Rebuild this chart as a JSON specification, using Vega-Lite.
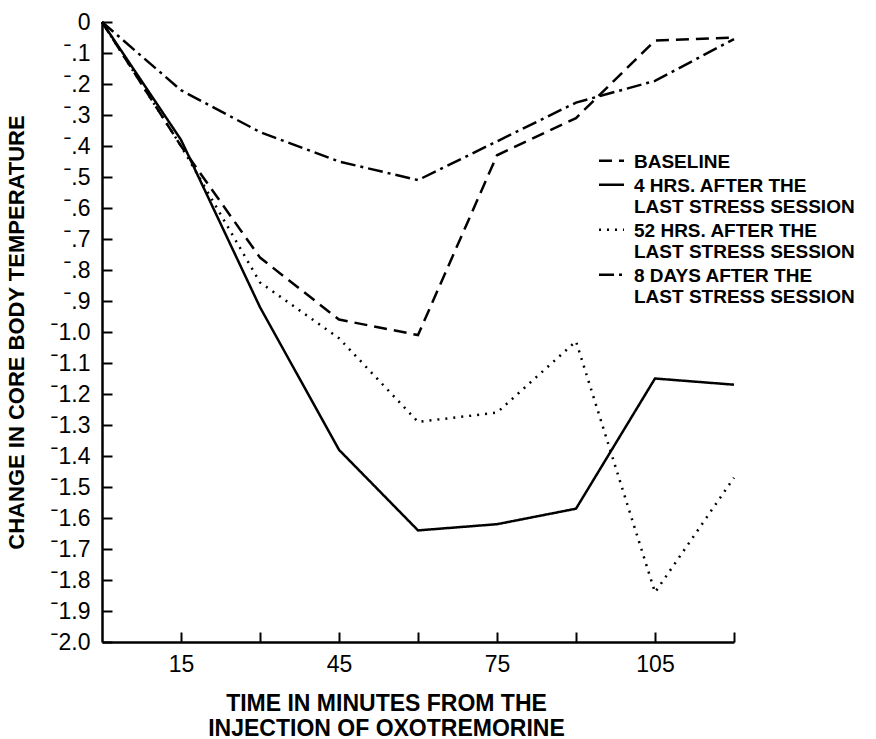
{
  "$schema": "https://vega.github.io/schema/vega-lite/v6.json",
  "width": 632,
  "height": 620,
  "autosize": {"type": "none"},
  "padding": {"left": 102, "top": 22, "right": 142, "bottom": 97},
  "background": "white",
  "config": {"view": {"stroke": null}},
  "data": {
    "values": [
      {"series": "BASELINE", "t": 0, "v": 0},
      {"series": "BASELINE", "t": 15, "v": -0.40},
      {"series": "BASELINE", "t": 30, "v": -0.76},
      {"series": "BASELINE", "t": 45, "v": -0.96},
      {"series": "BASELINE", "t": 60, "v": -1.01},
      {"series": "BASELINE", "t": 75, "v": -0.43},
      {"series": "BASELINE", "t": 90, "v": -0.31},
      {"series": "BASELINE", "t": 105, "v": -0.06},
      {"series": "BASELINE", "t": 120, "v": -0.05},
      {"series": "4 HRS. AFTER THE|LAST STRESS SESSION", "t": 0, "v": 0},
      {"series": "4 HRS. AFTER THE|LAST STRESS SESSION", "t": 15, "v": -0.38},
      {"series": "4 HRS. AFTER THE|LAST STRESS SESSION", "t": 30, "v": -0.92},
      {"series": "4 HRS. AFTER THE|LAST STRESS SESSION", "t": 45, "v": -1.38},
      {"series": "4 HRS. AFTER THE|LAST STRESS SESSION", "t": 60, "v": -1.64},
      {"series": "4 HRS. AFTER THE|LAST STRESS SESSION", "t": 75, "v": -1.62},
      {"series": "4 HRS. AFTER THE|LAST STRESS SESSION", "t": 90, "v": -1.57},
      {"series": "4 HRS. AFTER THE|LAST STRESS SESSION", "t": 105, "v": -1.15},
      {"series": "4 HRS. AFTER THE|LAST STRESS SESSION", "t": 120, "v": -1.17},
      {"series": "52 HRS. AFTER THE|LAST STRESS SESSION", "t": 0, "v": 0},
      {"series": "52 HRS. AFTER THE|LAST STRESS SESSION", "t": 15, "v": -0.40},
      {"series": "52 HRS. AFTER THE|LAST STRESS SESSION", "t": 30, "v": -0.84},
      {"series": "52 HRS. AFTER THE|LAST STRESS SESSION", "t": 45, "v": -1.02},
      {"series": "52 HRS. AFTER THE|LAST STRESS SESSION", "t": 60, "v": -1.29},
      {"series": "52 HRS. AFTER THE|LAST STRESS SESSION", "t": 75, "v": -1.26},
      {"series": "52 HRS. AFTER THE|LAST STRESS SESSION", "t": 90, "v": -1.03},
      {"series": "52 HRS. AFTER THE|LAST STRESS SESSION", "t": 105, "v": -1.84},
      {"series": "52 HRS. AFTER THE|LAST STRESS SESSION", "t": 120, "v": -1.47},
      {"series": "8 DAYS AFTER THE|LAST STRESS SESSION", "t": 0, "v": 0},
      {"series": "8 DAYS AFTER THE|LAST STRESS SESSION", "t": 15, "v": -0.22},
      {"series": "8 DAYS AFTER THE|LAST STRESS SESSION", "t": 30, "v": -0.355},
      {"series": "8 DAYS AFTER THE|LAST STRESS SESSION", "t": 45, "v": -0.45},
      {"series": "8 DAYS AFTER THE|LAST STRESS SESSION", "t": 60, "v": -0.51},
      {"series": "8 DAYS AFTER THE|LAST STRESS SESSION", "t": 75, "v": -0.385},
      {"series": "8 DAYS AFTER THE|LAST STRESS SESSION", "t": 90, "v": -0.26},
      {"series": "8 DAYS AFTER THE|LAST STRESS SESSION", "t": 105, "v": -0.19},
      {"series": "8 DAYS AFTER THE|LAST STRESS SESSION", "t": 120, "v": -0.055}
    ]
  },
  "mark": {"type": "line", "strokeWidth": 2.5, "color": "black", "strokeJoin": "miter"},
  "encoding": {
    "x": {
      "field": "t",
      "type": "quantitative",
      "scale": {"domain": [0, 120], "nice": false, "zero": false},
      "axis": {
        "values": [15, 30, 45, 60, 75, 90, 105, 120],
        "labelExpr": "datum.value % 30 == 15 ? datum.label : ''",
        "grid": false,
        "tickSize": -10,
        "tickWidth": 2,
        "tickColor": "black",
        "domainColor": "black",
        "domainWidth": 2.5,
        "labelFont": "Liberation Sans",
        "labelFontSize": 23,
        "labelColor": "black",
        "labelPadding": 21,
        "labelFlush": false,
        "title": ["TIME IN MINUTES FROM THE", "INJECTION OF OXOTREMORINE"],
        "titleFont": "Liberation Sans",
        "titleFontSize": 23,
        "titleFontWeight": "bold",
        "titleLineHeight": 25,
        "titlePadding": 16,
        "titleX": 284,
        "titleAlign": "center",
        "titleColor": "black"
      }
    },
    "y": {
      "field": "v",
      "type": "quantitative",
      "scale": {"domain": [-2, 0], "nice": false, "zero": false},
      "axis": {
        "values": [0, -0.1, -0.2, -0.3, -0.4, -0.5, -0.6, -0.7, -0.8, -0.9, -1.0, -1.1, -1.2, -1.3, -1.4, -1.5, -1.6, -1.7, -1.8, -1.9, -2.0],
        "labelExpr": "datum.value == 0 ? '0' : 'ˉ' + replace(format(-datum.value, '.1f'), '0.', '.')",
        "grid": false,
        "tickSize": -10,
        "tickWidth": 2,
        "tickColor": "black",
        "domainColor": "black",
        "domainWidth": 2.5,
        "labelFont": "Liberation Sans",
        "labelFontSize": 23,
        "labelColor": "black",
        "labelPadding": 22,
        "labelFlush": false,
        "title": "CHANGE IN CORE BODY TEMPERATURE",
        "titleFont": "Liberation Sans",
        "titleFontSize": 22,
        "titleFontWeight": "bold",
        "titlePadding": 22,
        "titleColor": "black"
      }
    },
    "strokeDash": {
      "field": "series",
      "type": "nominal",
      "scale": {
        "domain": ["BASELINE", "4 HRS. AFTER THE|LAST STRESS SESSION", "52 HRS. AFTER THE|LAST STRESS SESSION", "8 DAYS AFTER THE|LAST STRESS SESSION"],
        "range": [[13, 7], [1, 0], [2, 6], [15, 5, 3, 5]]
      },
      "legend": {
        "orient": "none",
        "legendX": 500,
        "legendY": 136,
        "title": null,
        "padding": 0,
        "symbolType": "M-4,-2.18H4",
        "symbolSize": 39,
        "symbolStrokeWidth": 2.5,
        "symbolStrokeColor": "black",
        "symbolFillColor": "transparent",
        "labelExpr": "split(datum.label, '|')",
        "labelFont": "Liberation Sans",
        "labelFontSize": 19,
        "labelFontWeight": "bold",
        "labelLineHeight": 20,
        "labelBaseline": "alphabetic",
        "labelOffset": 13,
        "labelLimit": 400,
        "labelColor": "black",
        "rowPadding": 4
      }
    }
  }
}
